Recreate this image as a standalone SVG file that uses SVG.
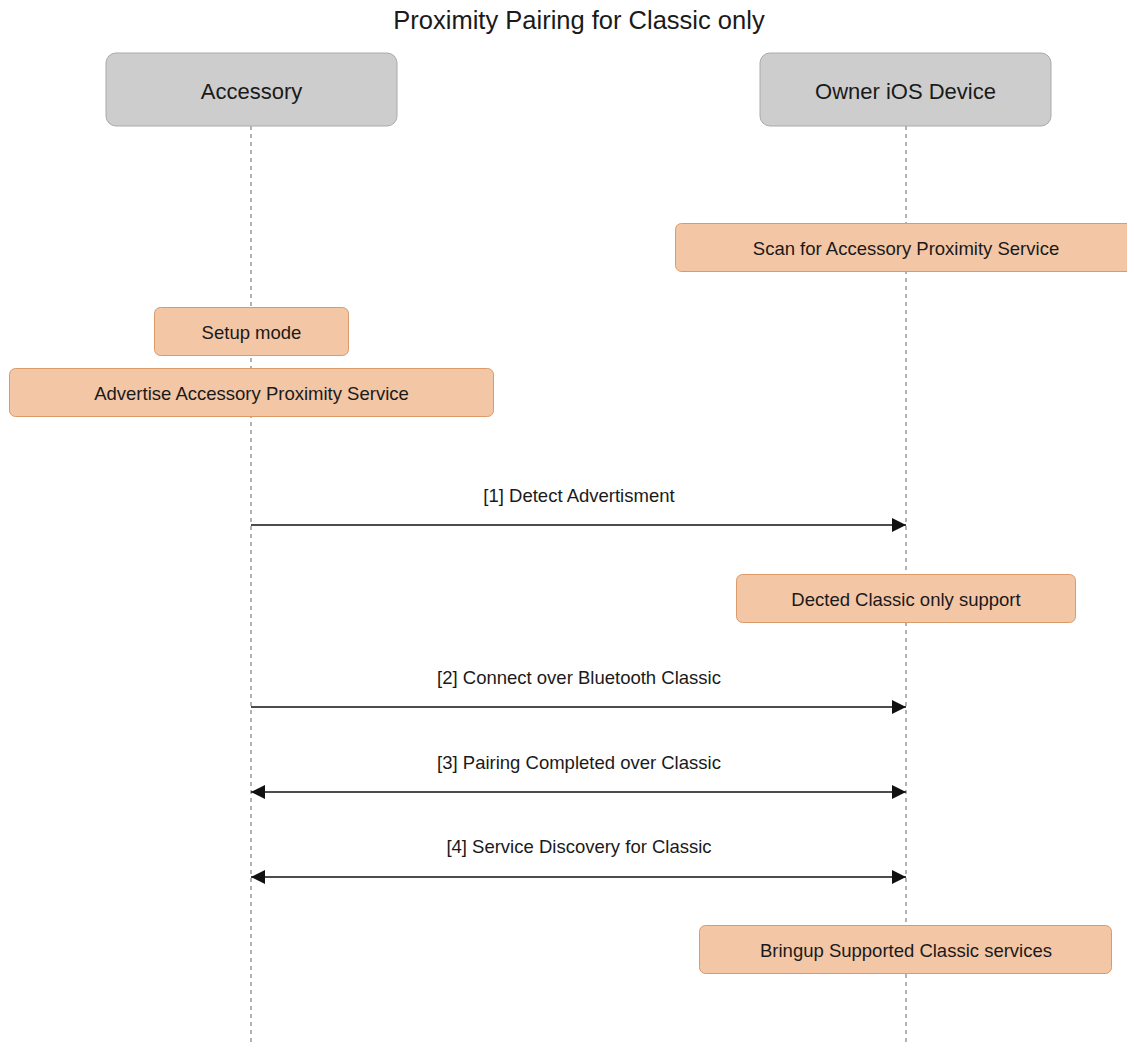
<svg xmlns="http://www.w3.org/2000/svg" width="1127" height="1043" viewBox="0 0 1127 1043">
<style>
text{font-family:"Liberation Sans",Arial,sans-serif;fill:#1a1a1a;text-anchor:middle;dominant-baseline:central}
.title{font-size:25.5px}
.part rect{fill:#cdcdcd;stroke:#aaaaaa;stroke-width:1}
.part text{font-size:22px}
.note rect{fill:#f3c6a6;stroke:#d99a6c;stroke-width:1}
.note text{font-size:18.5px}
.life{stroke:#8a8a8a;stroke-width:1.3;stroke-dasharray:4 4;fill:none}
.msg{stroke:#111;stroke-width:1.6;fill:none}
.lbl{font-size:18.5px}
</style>
<defs>
<marker id="ah" viewBox="0 0 14 14" refX="14" refY="7" markerWidth="14" markerHeight="14" markerUnits="userSpaceOnUse" orient="auto-start-reverse">
<path d="M0,0 L14,7 L0,14 Z" fill="#111"/>
</marker>
</defs>
<rect width="1127" height="1043" fill="#fff"/>
<text class="title" x="579" y="20">Proximity Pairing for Classic only</text>
<g id="lifelines">
<line class="life" x1="251" y1="126" x2="251" y2="1043"/>
<line class="life" x1="906" y1="126" x2="906" y2="1043"/>
</g>
<g id="accessory" class="part">
<rect x="106" y="53" width="291" height="73" rx="10"/>
<text x="251.5" y="91">Accessory</text>
</g>
<g id="owner" class="part">
<rect x="760" y="53" width="291" height="73" rx="10"/>
<text x="905.5" y="91">Owner iOS Device</text>
</g>
<g id="scan" class="note">
<rect x="675.5" y="223.5" width="470" height="48" rx="6"/>
<text x="906" y="248">Scan for Accessory Proximity Service</text>
</g>
<g id="setup" class="note">
<rect x="154.5" y="307.5" width="194" height="48" rx="6"/>
<text x="251.5" y="332">Setup mode</text>
</g>
<g id="advertise" class="note">
<rect x="9.5" y="368.5" width="484" height="48" rx="6"/>
<text x="251.5" y="393">Advertise Accessory Proximity Service</text>
</g>
<g id="detected" class="note">
<rect x="736.5" y="574.5" width="339" height="48" rx="6"/>
<text x="906" y="599">Dected Classic only support</text>
</g>
<g id="bringup" class="note">
<rect x="699.5" y="925.5" width="412" height="48" rx="6"/>
<text x="906" y="950">Bringup Supported Classic services</text>
</g>
<g id="connectors">
<line class="msg" x1="251" y1="525" x2="906" y2="525" marker-end="url(#ah)"/>
<text class="lbl" x="579" y="495">[1] Detect Advertisment</text>
<line class="msg" x1="251" y1="707" x2="906" y2="707" marker-end="url(#ah)"/>
<text class="lbl" x="579" y="677">[2] Connect over Bluetooth Classic</text>
<line class="msg" x1="251" y1="792" x2="906" y2="792" marker-start="url(#ah)" marker-end="url(#ah)"/>
<text class="lbl" x="579" y="762">[3] Pairing Completed over Classic</text>
<line class="msg" x1="251" y1="877" x2="906" y2="877" marker-start="url(#ah)" marker-end="url(#ah)"/>
<text class="lbl" x="579" y="846">[4] Service Discovery for Classic</text>
</g>
</svg>
